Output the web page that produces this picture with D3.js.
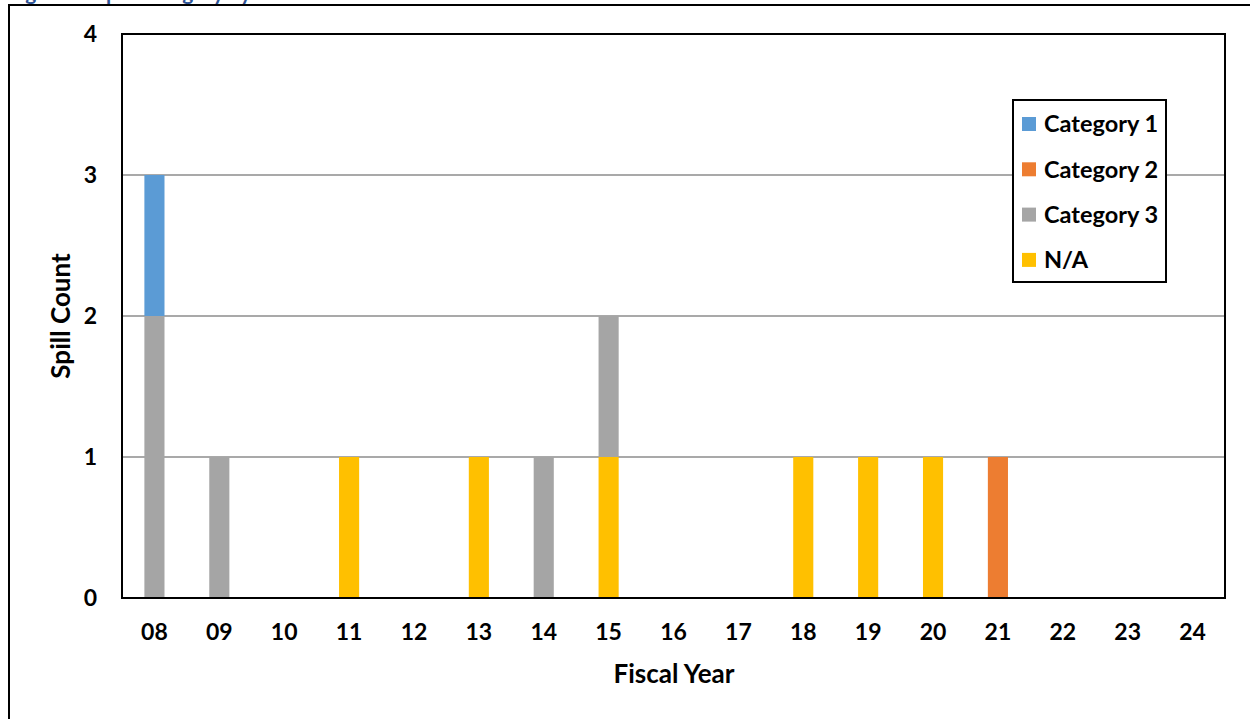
<!DOCTYPE html>
<html>
<head>
<meta charset="utf-8">
<script src="https://cdn.jsdelivr.net/npm/d3@7"></script>
<style>
  html, body { margin: 0; padding: 0; background: #fff; overflow: hidden; }
  svg { display: block; }
  text { font-family: Lato, "Open Sans", sans-serif; font-weight: 700; fill: #000; }
</style>
</head>
<body>
<script>
// Fiscal years on the x axis
const years = ["08","09","10","11","12","13","14","15","16","17","18","19","20","21","22","23","24"];
// Spill counts per fiscal year, one array per category
const category1 = [1,0,0,0,0,0,0,0,0,0,0,0,0,0,0,0,0];
const category2 = [0,0,0,0,0,0,0,0,0,0,0,0,0,1,0,0,0];
const category3 = [2,1,0,0,0,0,1,1,0,0,0,0,0,0,0,0,0];
const notAssigned = [0,0,0,1,0,1,0,1,0,0,1,1,1,0,0,0,0];
const seriesNames = ["Category 1","Category 2","Category 3","N/A"];
const seriesColors = ["#5B9BD5","#ED7D31","#A5A5A5","#FFC000"];
const yTicks = [0,1,2,3,4];

const W = 1250, H = 719;
const margin = {left: 122, top: 34, right: 25, bottom: 121};
const FONT = "Lato, 'Open Sans', sans-serif";

const svg = d3.select("body").append("svg").attr("width", W).attr("height", H);

// Figure caption, mostly above the page edge
svg.append("text").attr("x", 8).attr("y", 0)
  .attr("font-size", 21).style("fill", "#2F5496")
  .text("Figure 3: Spill Category by Fiscal Year");

// Outer frame
svg.append("rect").attr("x", 9).attr("y", 5).attr("width", 1300).attr("height", 800)
  .attr("fill", "none").attr("stroke", "#000").attr("stroke-width", 2);

const x = d3.scaleBand().domain(years)
  .range([margin.left, W - margin.right]).paddingInner(0).paddingOuter(0);
const y = d3.scaleLinear().domain([0, 4]).range([H - margin.bottom, margin.top]);

// Gridlines
svg.append("g").selectAll("line").data(yTicks.filter(t => t > 0 && t < 4)).join("line")
  .attr("x1", margin.left).attr("x2", W - margin.right)
  .attr("y1", d => y(d)).attr("y2", d => y(d))
  .attr("stroke", "#8C8C8C").attr("stroke-width", 1.5);

// Stack: N/A at the bottom, Category 1 on top
const rows = years.map((yr, i) => ({
  year: yr,
  "Category 1": category1[i],
  "Category 2": category2[i],
  "Category 3": category3[i],
  "N/A": notAssigned[i]
}));
const stackKeys = ["N/A","Category 3","Category 2","Category 1"];
const stacked = d3.stack().keys(stackKeys)(rows);
const color = d3.scaleOrdinal().domain(seriesNames).range(seriesColors);

const barW = x.bandwidth() * 0.31;
svg.append("g").selectAll("g").data(stacked).join("g")
  .attr("fill", d => color(d.key))
  .selectAll("rect").data(d => d.filter(s => s[1] > s[0])).join("rect")
  .attr("x", d => x(d.data.year) + x.bandwidth() / 2 - barW / 2)
  .attr("width", barW)
  .attr("y", d => y(d[1]))
  .attr("height", d => y(d[0]) - y(d[1]));

// Plot area border
svg.append("rect").attr("x", margin.left).attr("y", margin.top)
  .attr("width", W - margin.left - margin.right).attr("height", H - margin.top - margin.bottom)
  .attr("fill", "none").attr("stroke", "#000").attr("stroke-width", 2);

// Axes
const xAxis = svg.append("g").attr("transform", `translate(0,${H - margin.bottom})`)
  .call(d3.axisBottom(x).tickSize(0).tickPadding(26));
xAxis.select(".domain").remove();
xAxis.selectAll("text").attr("font-size", 23).style("font-family", FONT).style("font-weight", 700);

const yAxis = svg.append("g").attr("transform", `translate(${margin.left},0)`)
  .call(d3.axisLeft(y).tickValues(yTicks).tickFormat(d3.format("d")).tickSize(0).tickPadding(25));
yAxis.select(".domain").remove();
yAxis.selectAll("text").attr("font-size", 23).style("font-family", FONT).style("font-weight", 700);

// Axis titles
svg.append("text").attr("x", 674).attr("y", 683)
  .attr("text-anchor", "middle").attr("font-size", 26).text("Fiscal Year");
svg.append("text").attr("transform", `translate(70,316) rotate(-90)`)
  .attr("text-anchor", "middle").attr("font-size", 26).text("Spill Count");

// Legend
const lg = svg.append("g").attr("transform", "translate(1013,100)");
lg.append("rect").attr("width", 153).attr("height", 182)
  .attr("fill", "#fff").attr("stroke", "#000").attr("stroke-width", 2);
const items = lg.selectAll("g.item").data(seriesNames).join("g")
  .attr("class", "item")
  .attr("transform", (d, i) => `translate(9,${24 + i * 45.3})`);
items.append("rect").attr("x", 0).attr("y", -7).attr("width", 14).attr("height", 14)
  .attr("fill", d => color(d));
items.append("text").attr("x", 22).attr("y", 0).attr("dy", "0.35em")
  .attr("font-size", 23.5).text(d => d);
</script>
</body>
</html>
